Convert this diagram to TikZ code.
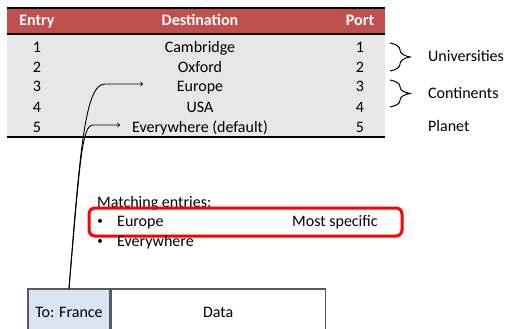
\documentclass[tikz,border=0pt]{standalone}
\usepackage{fontspec}
\setmainfont{Carlito}
\usetikzlibrary{arrows,calc,positioning,decorations.pathreplacing}

\definecolor{hdrred}{RGB}{192,80,77}
\definecolor{rowgrey}{RGB}{231,231,231}
\definecolor{pktblue}{RGB}{219,229,241}
\definecolor{pktline}{RGB}{89,89,89}

\tikzset{
  cell/.style={inner sep=0pt, text height=11pt, text depth=1pt, font=\fontsize{16}{18}\selectfont},
  head/.style={cell, text=white, font=\fontsize{16}{18}\selectfont\bfseries},
  dot/.style={cell, font=\fontsize{11}{13}\selectfont},
  rule/.style={line width=2pt},
  grp/.style={decorate, decoration={brace, amplitude=20pt}, line width=1pt},
  pkt/.style={cell, draw=pktline, line width=1.2pt, minimum height=46pt},
  hilite/.style={draw=red, line width=3pt, rounded corners=6pt},
  link/.style={->, line width=0.9pt}
}

\begin{document}
\begin{tikzpicture}[x=1pt, y=-1pt]
\useasboundingbox (0,0) rectangle (506,329);
\clip (0,0) rectangle (506,329);

\fill[hdrred] (7,8) rectangle (385,34);
\fill[rowgrey] (7,34) rectangle (385,137);
\draw[rule] (7,8) -- (385,8);
\draw[line width=1.5pt] (7,34) -- (385,34);
\draw[rule] (7,137) -- (385,137);

\node[head] (hentry) at (37,21) {Entry};
\node[head] (hdest) at (200,21) {Destination};
\node[head] (hport) at (360,21) {Port};

\node[cell] (e1) at (37,48) {1};
\node[cell] (d1) at (200,48) {Cambridge};
\node[cell] (p1) at (360,48) {1};

\node[cell] (e2) at (37,68) {2};
\node[cell] (d2) at (200,68) {Oxford};
\node[cell] (p2) at (360,68) {2};

\node[cell] (e3) at (37,87) {3};
\node[cell] (d3) at (200,87) {Europe};
\node[cell] (p3) at (360,87) {3};

\node[cell] (e4) at (37,107) {4};
\node[cell] (d4) at (200,107) {USA};
\node[cell] (p4) at (360,107) {4};

\node[cell] (e5) at (37,127) {5};
\node[cell] (d5) at (200,127) {Everywhere (default)};
\node[cell] (p5) at (360,127) {5};

\draw[grp] (390,43) -- (390,71);
\node[cell, anchor=west] (univ) at (428,57) {Universities};

\draw[grp] (390,80) -- (390,107);
\node[cell, anchor=west] (cont) at (428,93) {Continents};

\node[cell, anchor=west] (planet) at (428,126) {Planet};

\node[cell, anchor=west] (match) at (97,202) {Matching entries:};
\draw[hilite] (89,208) rectangle (402,236);
\node[dot] (b1) at (100,219) {•};
\node[cell, anchor=west] (m1) at (117,221) {Europe};
\node[cell, anchor=west] (spec) at (292,221) {Most specific};
\node[dot] (b2) at (100,239) {•};
\node[cell, anchor=west] (m2) at (117,241) {Everywhere};

\node[pkt, fill=pktblue, minimum width=82pt] (fr) at (69,312) {To: France};
\node[pkt, minimum width=214pt, anchor=west] (data) at (fr.east) {Data};

\coordinate (eu) at (143,84);
\coordinate (ev) at (120,125);
\draw[link] (fr.north) .. controls (80,150) and (85,84) .. (105,84) -- (eu);
\draw[link] (fr.north) .. controls (80,160) and (82,125) .. (93,125) -- (ev);
\end{tikzpicture}
\end{document}
